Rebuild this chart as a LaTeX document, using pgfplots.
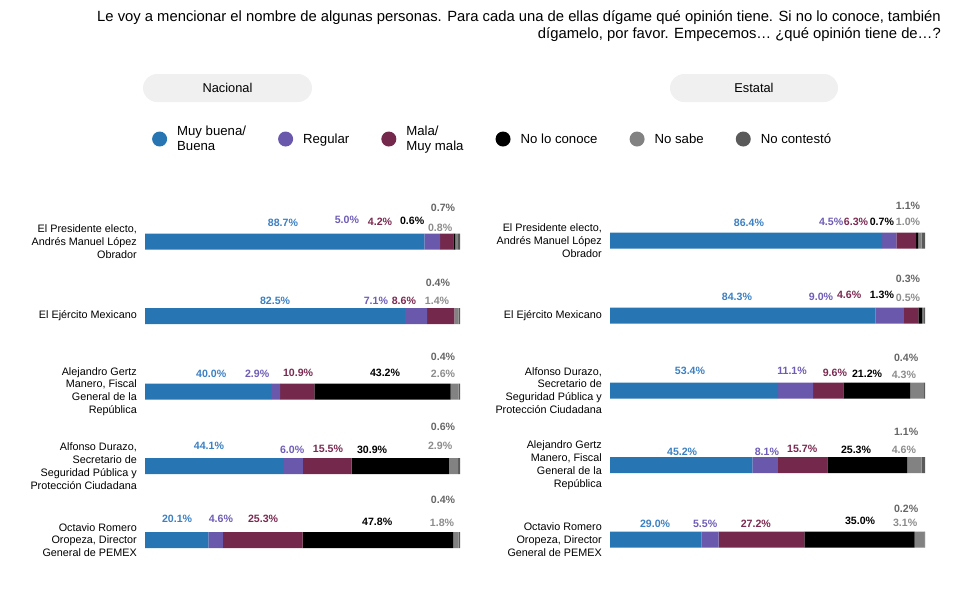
\documentclass[border=0pt]{standalone}
\usepackage{pgfplots}
\pgfplotsset{compat=1.18}
\usepackage{fontspec}
\setmainfont{Liberation Sans}
\definecolor{cB}{HTML}{2776B3}
\definecolor{cR}{HTML}{6A58AC}
\definecolor{cM}{HTML}{74284C}
\definecolor{cN}{HTML}{000000}
\definecolor{cS}{HTML}{828282}
\definecolor{cC}{HTML}{5A5A5A}
\definecolor{lB}{HTML}{3A80C2}
\definecolor{lR}{HTML}{6E5CB6}
\definecolor{lM}{HTML}{7A2A50}
\definecolor{lS}{HTML}{8C8C8C}
\definecolor{lC}{HTML}{666666}
\definecolor{pill}{HTML}{F0F0F0}
\pgfplotsset{
  panel/.style={scale only axis, width=315pt, height=370pt, xmin=0, xmax=100,
    ymin=190, ymax=560, y dir=reverse, clip=false,
    axis line style={draw=none}, tick style={draw=none}, major tick length=0pt,
    xtick=\empty},
  leg/.style={legend image code/.code={\fill (0pt,0pt) circle (7.5pt);}},
  seg/.style={fill=#1, draw=none, leg},
  lbl/.style={only marks, mark=*, mark size=0pt, mark options={draw=none,fill=none},
    point meta=explicit, nodes near coords align=center,
    nodes near coords={\pgfmathprintnumber[fixed,fixed zerofill,precision=1,assume math mode=true]{\pgfplotspointmeta}\%},
    every node near coord/.append style={inner sep=0pt, text=#1, font=\bfseries\fontsize{10.6}{12}\selectfont}},
  names/.style={yticklabel style={align=right, inner sep=0pt, xshift=-8pt, font=\fontsize{10.8}{12.8}\selectfont}}
}
\begin{document}
\begin{tikzpicture}
\path[use as bounding box] (0pt,0pt) rectangle (957pt,-595pt);
% title
\node[anchor=north east, align=right, inner sep=0pt, font=\fontsize{14.8}{17.5}\selectfont] at (941pt,-10pt)
 {Le voy a mencionar el nombre de algunas personas. Para cada una de ellas dígame qué opinión tiene. Si no lo conoce, también\\dígamelo, por favor. Empecemos… ¿qué opinión tiene de…?};
% pills
\fill[pill, rounded corners=14pt] (143pt,-74pt) rectangle (312pt,-102pt);
\node[font=\fontsize{12.8}{14}\selectfont] at (227.5pt,-88pt) {Nacional};
\fill[pill, rounded corners=14pt] (670pt,-74pt) rectangle (838pt,-102pt);
\node[font=\fontsize{12.8}{14}\selectfont] at (754pt,-88pt) {Estatal};

% ---------- Nacional bars ----------
\begin{axis}[panel, at={(145pt,-190pt)}, anchor=north west, xbar stacked, bar width=16,
  names, ytick={241.5,316,391.5,466,540},
  yticklabels={{El Presidente electo,\\Andrés Manuel López\\Obrador},{El Ejército Mexicano},
   {Alejandro Gertz\\Manero, Fiscal\\General de la\\República},
   {Alfonso Durazo,\\Secretario de\\Seguridad Pública y\\Protección Ciudadana},
   {Octavio Romero\\Oropeza, Director\\General de PEMEX}},
  legend columns=6,
  legend style={draw=none, fill=none, inner sep=0pt, at={(0.022,1.1378)}, anchor=west,
    font=\fontsize{13.2}{15.5}\selectfont, cells={anchor=west, align=left},
    /tikz/every even column/.append style={column sep=30pt},
    /tikz/every odd column/.append style={column sep=8pt}}]
\addplot[seg=cB] coordinates {(88.7,241.5) (82.5,316) (40.0,391.5) (44.1,466) (20.1,540)};
\addlegendentry{Muy buena/\\Buena}
\addplot[seg=cR] coordinates {(5.0,241.5) (7.1,316) (2.9,391.5) (6.0,466) (4.6,540)};
\addlegendentry{Regular}
\addplot[seg=cM] coordinates {(4.2,241.5) (8.6,316) (10.9,391.5) (15.5,466) (25.3,540)};
\addlegendentry{Mala/\\Muy mala}
\addplot[seg=cN] coordinates {(0.6,241.5) (0,316) (43.2,391.5) (30.9,466) (47.8,540)};
\addlegendentry{No lo conoce}
\addplot[seg=cS] coordinates {(0.8,241.5) (1.4,316) (2.6,391.5) (2.9,466) (1.8,540)};
\addlegendentry{No sabe}
\addplot[seg=cC] coordinates {(0.7,241.5) (0.4,316) (0.4,391.5) (0.6,466) (0.4,540)};
\addlegendentry{No contestó}
\end{axis}
% ---------- Nacional labels ----------
\begin{axis}[panel, at={(145pt,-190pt)}, anchor=north west, ytick=\empty]
\addplot[lbl=lB] coordinates {(43.8,222.7)[88.7] (41.3,301)[82.5] (21.0,374.3)[40.0] (20.3,446)[44.1] (10.2,519.3)[20.1]};
\addplot[lbl=lR] coordinates {(64.1,219.5)[5.0] (73.3,301)[7.1] (35.6,374.3)[2.9] (46.7,450)[6.0] (24.1,519.3)[4.6]};
\addplot[lbl=lM] coordinates {(74.6,221.7)[4.2] (82.2,301)[8.6] (48.6,372.7)[10.9] (58.1,449.3)[15.5] (37.5,519.3)[25.3]};
\addplot[lbl=black] coordinates {(84.8,220.5)[0.6] (76.2,373.3)[43.2] (72.1,450)[30.9] (73.7,522.3)[47.8]};
\addplot[lbl=lS] coordinates {(93.7,228.3)[0.8] (92.7,301)[1.4] (94.6,374.3)[2.6] (93.7,446)[2.9] (94.3,522.7)[1.8]};
\addplot[lbl=lC] coordinates {(94.6,208.3)[0.7] (93.0,283.3)[0.4] (94.6,356.7)[0.4] (94.6,427.3)[0.6] (94.6,500)[0.4]};
\end{axis}

% ---------- Estatal bars ----------
\begin{axis}[panel, at={(610pt,-190pt)}, anchor=north west, xbar stacked, bar width=16,
  names, ytick={240.5,315.7,390.5,465,539.5},
  yticklabels={{El Presidente electo,\\Andrés Manuel López\\Obrador},{El Ejército Mexicano},
   {Alfonso Durazo,\\Secretario de\\Seguridad Pública y\\Protección Ciudadana},
   {Alejandro Gertz\\Manero, Fiscal\\General de la\\República},
   {Octavio Romero\\Oropeza, Director\\General de PEMEX}}]
\addplot[seg=cB] coordinates {(86.4,240.5) (84.3,315.7) (53.4,390.5) (45.2,465) (29.0,539.5)};
\addplot[seg=cR] coordinates {(4.5,240.5) (9.0,315.7) (11.1,390.5) (8.1,465) (5.5,539.5)};
\addplot[seg=cM] coordinates {(6.3,240.5) (4.6,315.7) (9.6,390.5) (15.7,465) (27.2,539.5)};
\addplot[seg=cN] coordinates {(0.7,240.5) (1.3,315.7) (21.2,390.5) (25.3,465) (35.0,539.5)};
\addplot[seg=cS] coordinates {(1.0,240.5) (0.5,315.7) (4.3,390.5) (4.6,465) (3.1,539.5)};
\addplot[seg=cC] coordinates {(1.1,240.5) (0.3,315.7) (0.4,390.5) (1.1,465) (0.2,539.5)};
\end{axis}
% ---------- Estatal labels ----------
\begin{axis}[panel, at={(610pt,-190pt)}, anchor=north west, ytick=\empty]
\addplot[lbl=lB] coordinates {(44.1,223.3)[86.4] (40.3,296.7)[84.3] (25.4,371)[53.4] (22.9,451.7)[45.2] (14.3,524.3)[29.0]};
\addplot[lbl=lR] coordinates {(70.2,221.7)[4.5] (67.0,296.7)[9.0] (57.8,371)[11.1] (49.8,451.7)[8.1] (30.2,524.3)[5.5]};
\addplot[lbl=lM] coordinates {(78.1,221.7)[6.3] (75.9,295)[4.6] (71.4,372.7)[9.6] (61.0,448.7)[15.7] (46.3,524.3)[27.2]};
\addplot[lbl=black] coordinates {(86.3,221.7)[0.7] (86.3,295)[1.3] (81.6,374.3)[21.2] (78.1,450.3)[25.3] (79.4,521)[35.0]};
\addplot[lbl=lS] coordinates {(94.6,221.7)[1.0] (94.6,298.3)[0.5] (93.3,375)[4.3] (93.3,450.3)[4.6] (93.7,522.7)[3.1]};
\addplot[lbl=lC] coordinates {(94.6,205.7)[1.1] (94.6,279.3)[0.3] (94.0,357.7)[0.4] (94.0,432.3)[1.1] (94.0,509)[0.2]};
\end{axis}
\end{tikzpicture}
\end{document}
